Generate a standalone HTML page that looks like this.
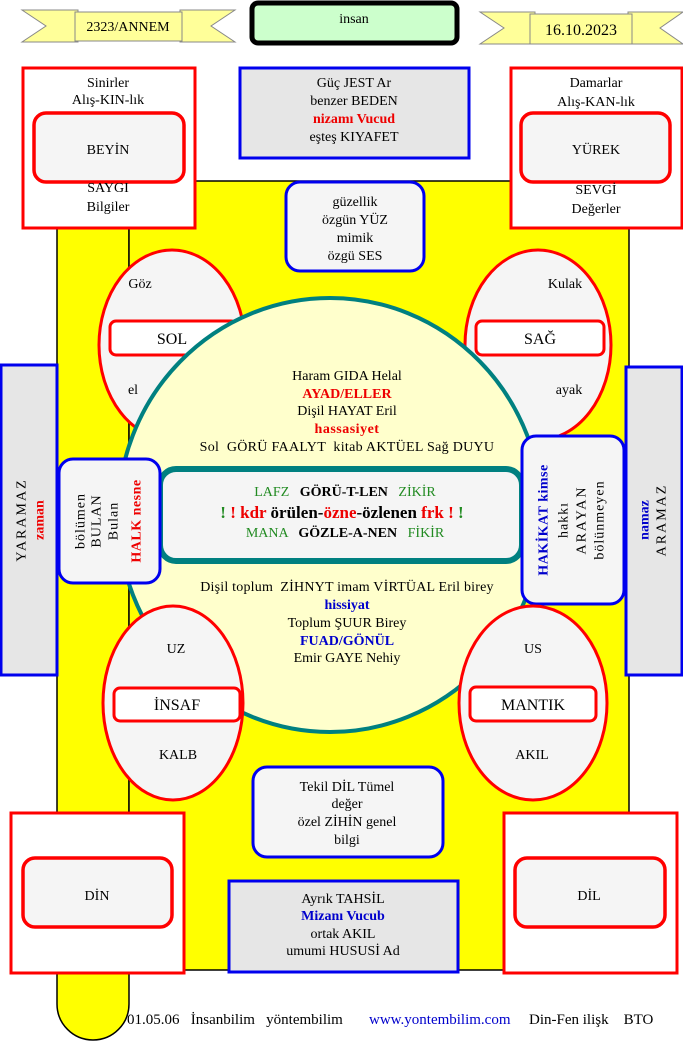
<!DOCTYPE html>
<html><head><meta charset="utf-8"><style>
html,body{margin:0;padding:0;background:#fff;}
svg{display:block;font-family:"Liberation Serif",serif;font-size:14px;}
text{white-space:pre;}
</style></head><body>
<svg width="683" height="1042" viewBox="0 0 683 1042" xmlns="http://www.w3.org/2000/svg" xml:space="preserve">
<path d="M57,200 L129,200 L129,1004 A36,36 0 0 1 57,1004 Z" fill="#ffff00" stroke="#000" stroke-width="1.5"/>
<rect x="129" y="181" width="500" height="789" fill="#ffff00" stroke="#000" stroke-width="1.5"/>

<g fill="#ffff99" stroke="#888" stroke-width="1">
<polygon points="22,10 78,10 78,42 22,42 46,26"/>
<polygon points="180,10 235,10 211,26 235,42 180,42"/>
<rect x="75" y="12" width="107" height="29"/>
<polygon points="480,12 535,12 535,44 480,44 504,28"/>
<polygon points="628,12 683,12 660,28 683,44 628,44"/>
<rect x="530" y="14" width="102" height="30"/>
</g>
<text x="128" y="31" text-anchor="middle" font-size="14">2323/ANNEM</text>
<text x="581" y="35" text-anchor="middle" font-size="16">16.10.2023</text>
<rect x="252" y="3" width="205" height="40" rx="6" fill="#ccffcc" stroke="#000" stroke-width="5"/>
<text x="354" y="23" text-anchor="middle">insan</text>

<rect x="23" y="68" width="172" height="160" fill="#fff" stroke="#f00" stroke-width="3"/>
<rect x="34" y="113" width="150" height="69" rx="12" fill="#f5f5f5" stroke="#f00" stroke-width="3.5"/>
<text x="108" y="87" text-anchor="middle">Sinirler</text>
<text x="108" y="104" text-anchor="middle">Alış-KIN-lık</text>
<text x="108" y="154" text-anchor="middle">BEYİN</text>
<text x="108" y="192" text-anchor="middle">SAYGI</text>
<text x="108" y="211" text-anchor="middle">Bilgiler</text>

<rect x="511" y="68" width="171" height="160" fill="#fff" stroke="#f00" stroke-width="3"/>
<rect x="521" y="113" width="149" height="69" rx="12" fill="#f5f5f5" stroke="#f00" stroke-width="3.5"/>
<text x="596" y="87" text-anchor="middle">Damarlar</text>
<text x="596" y="106" text-anchor="middle">Alış-KAN-lık</text>
<text x="596" y="154" text-anchor="middle">YÜREK</text>
<text x="596" y="194" text-anchor="middle">SEVGİ</text>
<text x="596" y="213" text-anchor="middle">Değerler</text>

<rect x="240" y="68" width="229" height="90" fill="#e6e6e6" stroke="#0000ee" stroke-width="3"/>
<text x="354" y="87" text-anchor="middle">Güç JEST Ar</text>
<text x="354" y="105" text-anchor="middle">benzer BEDEN</text>
<text x="354" y="123" text-anchor="middle" fill="#e00" font-weight="bold">nizamı Vucud</text>
<text x="354" y="141" text-anchor="middle">eşteş KIYAFET</text>

<rect x="286" y="182" width="138" height="89" rx="14" fill="#f5f5f5" stroke="#0000ee" stroke-width="3"/>
<text x="355" y="206" text-anchor="middle">güzellik</text>
<text x="355" y="224" text-anchor="middle">özgün YÜZ</text>
<text x="355" y="242" text-anchor="middle">mimik</text>
<text x="355" y="260" text-anchor="middle">özgü SES</text>

<ellipse cx="172" cy="345" rx="73" ry="95" fill="#f5f5f5" stroke="#f00" stroke-width="3"/>
<rect x="110" y="321" width="127" height="34" rx="6" fill="#fff" stroke="#f00" stroke-width="3"/>
<text x="140" y="288" text-anchor="middle">Göz</text>
<text x="172" y="344" text-anchor="middle" font-size="16">SOL</text>
<text x="133" y="394" text-anchor="middle">el</text>

<ellipse cx="538" cy="345" rx="73" ry="95" fill="#f5f5f5" stroke="#f00" stroke-width="3"/>
<rect x="476" y="321" width="128" height="34" rx="6" fill="#fff" stroke="#f00" stroke-width="3"/>
<text x="565" y="288" text-anchor="middle">Kulak</text>
<text x="540" y="344" text-anchor="middle" font-size="16">SAĞ</text>
<text x="569" y="394" text-anchor="middle">ayak</text>

<ellipse cx="330" cy="515" rx="212" ry="217" fill="#ffffcc" stroke="#008080" stroke-width="4"/>
<text x="347" y="380" text-anchor="middle">Haram GIDA Helal</text>
<text x="347" y="398" text-anchor="middle" fill="#e00" font-weight="bold">AYAD/ELLER</text>
<text x="347" y="415" text-anchor="middle">Dişil HAYAT Eril</text>
<text x="347" y="433" text-anchor="middle" fill="#e00" font-weight="bold" letter-spacing="0.5">hassasiyet</text>
<text x="347" y="451" text-anchor="middle" letter-spacing="0.3">Sol  GÖRÜ FAALYT  kitab AKTÜEL Sağ DUYU</text>
<text x="347" y="591" text-anchor="middle" letter-spacing="0.2">Dişil toplum  ZİHNYT imam VİRTÜAL Eril birey</text>
<text x="347" y="609" text-anchor="middle" fill="#0000cc" font-weight="bold">hissiyat</text>
<text x="347" y="627" text-anchor="middle">Toplum ŞUUR Birey</text>
<text x="347" y="645" text-anchor="middle" fill="#0000cc" font-weight="bold">FUAD/GÖNÜL</text>
<text x="347" y="662" text-anchor="middle">Emir GAYE Nehiy</text>

<rect x="160" y="469" width="362" height="92" rx="16" fill="#f5f5f5" stroke="#008080" stroke-width="6"/>
<text x="345" y="496" text-anchor="middle"><tspan fill="#228b22">LAFZ</tspan>   <tspan font-weight="bold">GÖRÜ-T-LEN</tspan>   <tspan fill="#228b22">ZİKİR</tspan></text>
<text x="342" y="518" text-anchor="middle" font-size="17" font-weight="bold"><tspan fill="#228b22">!</tspan> <tspan fill="#e00">!</tspan> <tspan fill="#e00">kdr</tspan> örülen-<tspan fill="#e00">özne</tspan>-özlenen <tspan fill="#e00">frk</tspan> <tspan fill="#e00">!</tspan> <tspan fill="#228b22">!</tspan></text>
<text x="345" y="537" text-anchor="middle"><tspan fill="#228b22">MANA</tspan>   <tspan font-weight="bold">GÖZLE-A-NEN</tspan>   <tspan fill="#228b22">FİKİR</tspan></text>

<rect x="1" y="365" width="56" height="310" fill="#e6e6e6" stroke="#0000ee" stroke-width="3"/>
<text transform="translate(22,520) rotate(-90)" text-anchor="middle" dominant-baseline="central" letter-spacing="2">YARAMAZ</text>
<text transform="translate(40,520) rotate(-90)" text-anchor="middle" dominant-baseline="central" fill="#e00" font-weight="bold">zaman</text>

<rect x="59" y="459" width="101" height="124" rx="14" fill="#f5f5f5" stroke="#0000ee" stroke-width="3"/>
<text transform="translate(81,521) rotate(-90)" text-anchor="middle" dominant-baseline="central" letter-spacing="1">bölümen</text>
<text transform="translate(97,521) rotate(-90)" text-anchor="middle" dominant-baseline="central" letter-spacing="1">BULAN</text>
<text transform="translate(114,521) rotate(-90)" text-anchor="middle" dominant-baseline="central" letter-spacing="1">Bulan</text>
<text transform="translate(137,521) rotate(-90)" text-anchor="middle" dominant-baseline="central" fill="#e00" font-weight="bold" letter-spacing="0.5">HALK nesne</text>

<rect x="522" y="436" width="102" height="168" rx="14" fill="#f5f5f5" stroke="#0000ee" stroke-width="3"/>
<text transform="translate(544,520) rotate(-90)" text-anchor="middle" dominant-baseline="central" fill="#0000cc" font-weight="bold" letter-spacing="0.5">HAKİKAT kimse</text>
<text transform="translate(564,520) rotate(-90)" text-anchor="middle" dominant-baseline="central" letter-spacing="1">hakkı</text>
<text transform="translate(582,520) rotate(-90)" text-anchor="middle" dominant-baseline="central" letter-spacing="2">ARAYAN</text>
<text transform="translate(600,520) rotate(-90)" text-anchor="middle" dominant-baseline="central" letter-spacing="1">bölünmeyen</text>

<rect x="626" y="367" width="56" height="308" fill="#e6e6e6" stroke="#0000ee" stroke-width="3"/>
<text transform="translate(645,520) rotate(-90)" text-anchor="middle" dominant-baseline="central" fill="#0000cc" font-weight="bold">namaz</text>
<text transform="translate(662,520) rotate(-90)" text-anchor="middle" dominant-baseline="central" letter-spacing="2">ARAMAZ</text>

<ellipse cx="173" cy="703" rx="70" ry="97" fill="#f5f5f5" stroke="#f00" stroke-width="3"/>
<rect x="114" y="688" width="126" height="33" rx="6" fill="#fff" stroke="#f00" stroke-width="3"/>
<text x="176" y="653" text-anchor="middle">UZ</text>
<text x="177" y="710" text-anchor="middle" font-size="16">İNSAF</text>
<text x="178" y="759" text-anchor="middle">KALB</text>

<ellipse cx="533" cy="703" rx="74" ry="97" fill="#f5f5f5" stroke="#f00" stroke-width="3"/>
<rect x="470" y="687" width="126" height="34" rx="6" fill="#fff" stroke="#f00" stroke-width="3"/>
<text x="533" y="653" text-anchor="middle">US</text>
<text x="533" y="710" text-anchor="middle" font-size="16">MANTIK</text>
<text x="532" y="759" text-anchor="middle">AKIL</text>

<rect x="253" y="767" width="190" height="90" rx="14" fill="#f5f5f5" stroke="#0000ee" stroke-width="3"/>
<text x="347" y="791" text-anchor="middle">Tekil DİL Tümel</text>
<text x="347" y="808" text-anchor="middle">değer</text>
<text x="347" y="826" text-anchor="middle">özel ZİHİN genel</text>
<text x="347" y="844" text-anchor="middle">bilgi</text>

<rect x="11" y="813" width="173" height="160" fill="#fff" stroke="#f00" stroke-width="3"/>
<rect x="23" y="858" width="149" height="69" rx="12" fill="#f5f5f5" stroke="#f00" stroke-width="3.5"/>
<text x="97" y="900" text-anchor="middle">DİN</text>
<rect x="504" y="813" width="173" height="160" fill="#fff" stroke="#f00" stroke-width="3"/>
<rect x="515" y="858" width="150" height="69" rx="12" fill="#f5f5f5" stroke="#f00" stroke-width="3.5"/>
<text x="589" y="900" text-anchor="middle">DİL</text>

<rect x="229" y="881" width="229" height="91" fill="#e6e6e6" stroke="#0000ee" stroke-width="3"/>
<text x="343" y="903" text-anchor="middle">Ayrık TAHSİL</text>
<text x="343" y="920" text-anchor="middle" fill="#0000cc" font-weight="bold">Mizanı Vucub</text>
<text x="343" y="938" text-anchor="middle">ortak AKIL</text>
<text x="343" y="955" text-anchor="middle">umumi HUSUSİ Ad</text>

<text x="127" y="1024" font-size="15">01.05.06   İnsanbilim   yöntembilim</text>
<text x="369" y="1024" fill="#0000cc" font-size="15">www.yontembilim.com</text>
<text x="529" y="1024" font-size="15">Din-Fen ilişk    BTO</text>
</svg>
</body></html>
